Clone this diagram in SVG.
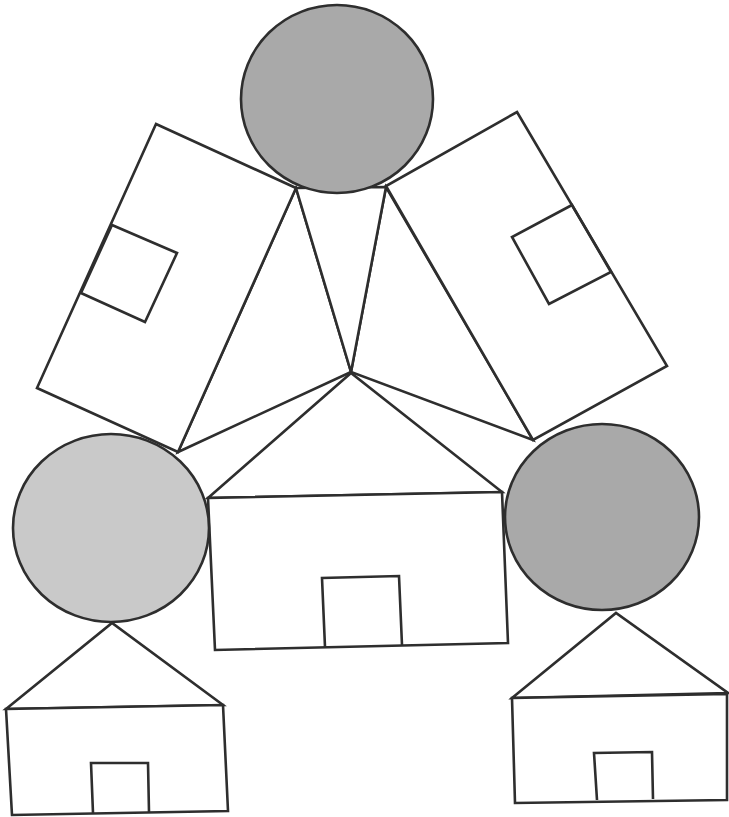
<svg xmlns="http://www.w3.org/2000/svg" width="729" height="817" viewBox="0 0 729 817">
<style>
.s{fill:none;stroke:#2e2e2e;stroke-width:2.6;stroke-linejoin:miter}
.w{fill:#ffffff;stroke:#2e2e2e;stroke-width:2.6}
.g{fill:#a9a9a9;stroke:#2e2e2e;stroke-width:2.6}
.gl{fill:#c9c9c9;stroke:#2e2e2e;stroke-width:2.6}
</style>
<rect width="729" height="817" fill="#ffffff"/>
<g id="triangles">
<polygon class="w" points="296,188 351,372 178,452"/>
<polygon class="w" points="386,187 351,372 533,440"/>
<polygon class="w" points="296,188 386,187 351,372"/>
</g>
<g id="left-rect">
<polygon class="w" points="156,124 296,188 178,452 37,388"/>
<polygon class="s" points="112,225 177,253 145,322 81,293"/>
</g>
<g id="right-rect">
<polygon class="w" points="517,112 667,366 533,440 386,186"/>
<polygon class="s" points="572,205 512,237 549,304 611,272"/>
</g>
<g id="top-circle">
<ellipse class="g" cx="337" cy="99" rx="96" ry="94"/>
</g>
<g id="middle-house">
<polygon class="s" points="208,498 351,373 502,492"/>
<polygon class="w" points="208,498 502,492 508,643 215,650"/>
<polyline class="s" points="325,647 322,578 399,576 402,645"/>
</g>
<g id="left-circle">
<ellipse class="gl" cx="111" cy="528" rx="98" ry="94"/>
</g>
<g id="right-circle">
<ellipse class="g" cx="602" cy="517" rx="97" ry="93"/>
</g>
<g id="left-house">
<polygon class="s" points="6,709 112,623 223,705"/>
<polygon class="w" points="6,709 223,705 228,811 12,815"/>
<polyline class="s" points="93,813 91,763 148,763 149,812"/>
</g>
<g id="right-house">
<polygon class="s" points="512,698 616,613 728,693"/>
<polygon class="w" points="512,698 727,694 727,800 515,803"/>
<polyline class="s" points="597,800 594,753 652,752 653,799"/>
</g>
</svg>
